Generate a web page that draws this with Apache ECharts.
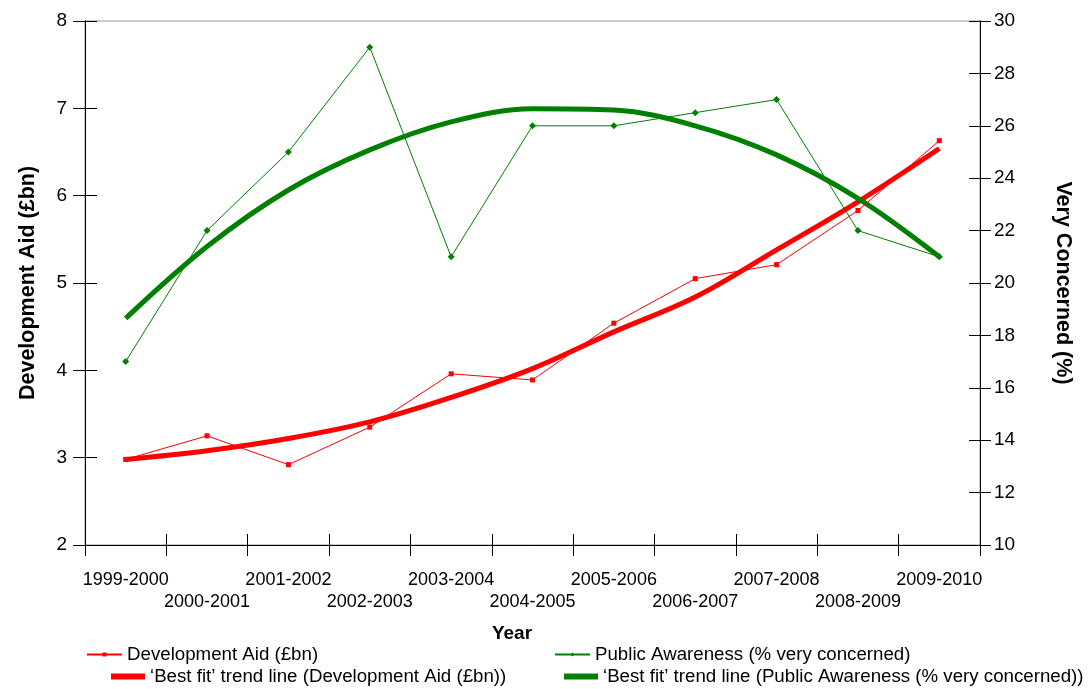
<!DOCTYPE html>
<html>
<head>
<meta charset="utf-8">
<script src="https://cdn.jsdelivr.net/npm/echarts@6/dist/echarts.min.js"></script>
<style>
html,body{margin:0;padding:0;background:#fff;}
#chart{width:1088px;height:689px;}
</style>
</head>
<body>
<div id="chart"></div>
<script>
const categories = ['1999-2000','2000-2001','2001-2002','2002-2003','2003-2004','2004-2005','2005-2006','2006-2007','2007-2008','2008-2009','2009-2010'];
const aid = [2.98, 3.25, 2.92, 3.35, 3.96, 3.89, 4.54, 5.05, 5.21, 5.83, 6.63];
const awareness = [17, 22, 25, 29, 21, 26, 26, 26.5, 27, 22, 21];
const aidTrend = [2.98, 3.08, 3.22, 3.41, 3.69, 4.02, 4.44, 4.84, 5.38, 5.93, 6.54];
const awarenessTrend = [18.65, 21.39, 23.55, 25.08, 26.15, 26.65, 26.6, 26.0, 24.89, 23.23, 21.0];

const seriesNames = ['Development Aid (£bn)', 'Public Awareness (% very concerned)',
  '\u2018Best fit\u2019 trend line (Development Aid (£bn))',
  '\u2018Best fit\u2019 trend line (Public Awareness (% very concerned))'];

const FONT = 'Liberation Sans, Arial, sans-serif';
const RED = '#ff0000', GREEN = '#008000';

const chart = echarts.init(document.getElementById('chart'));
const legendText = {fontFamily: FONT, fontSize: 18.7, color: '#000'};
function legend(name, left, top, thick) {
  const l = {data: [name], left: left, top: top, itemWidth: 35, itemGap: 4,
    textStyle: legendText, selectedMode: false, padding: 0};
  if (thick) { l.icon = 'rect'; l.itemHeight = 6; l.itemWidth = 34; }
  else { l.itemHeight = 5; }
  return l;
}
const tickStyle = {color: '#000', width: 1};
chart.setOption({
  backgroundColor: '#fff',
  animation: false,
  title: {text: 'Year', left: 507, top: 619, textAlign: 'center',
    textStyle: {fontFamily: FONT, fontSize: 19, fontWeight: 'bold', color: '#000'}},
  grid: {left: 85, right: 108, top: 21, bottom: 144, show: true, borderColor: '#999', borderWidth: 1},
  legend: [
    legend(seriesNames[0], 86, 645, false),
    legend(seriesNames[1], 554, 645, false),
    legend(seriesNames[2], 111, 667, true),
    legend(seriesNames[3], 564, 667, true)
  ],
  xAxis: [{
    type: 'category', data: categories, position: 'bottom', offset: 0,
    axisLine: {lineStyle: {color: '#000', width: 1}},
    axisTick: {show: true, inside: false, length: 11, lineStyle: tickStyle},
    axisLabel: {interval: 0, margin: 24, fontFamily: FONT, fontSize: 18, color: '#000', lineHeight: 22,
      formatter: function (v, i) { return i % 2 === 1 ? '\n' + v : v + '\n'; }},
    splitLine: {show: false}
  }, {
    type: 'category', data: categories, position: 'bottom', offset: 0,
    axisLine: {show: true, onZero: false, lineStyle: {color: '#000', width: 1}},
    axisTick: {show: true, inside: true, length: 11, lineStyle: tickStyle},
    axisLabel: {show: false}, splitLine: {show: false}
  }],
  yAxis: [{
    type: 'value', min: 2, max: 8, interval: 1, position: 'left', offset: 0,
    name: 'Development Aid (£bn)', nameLocation: 'middle', nameGap: 46,
    nameTextStyle: {fontFamily: FONT, fontSize: 21.5, fontWeight: 'bold', color: '#000'},
    axisLine: {show: true, lineStyle: {color: '#000'}},
    axisTick: {show: true, length: 12, lineStyle: tickStyle},
    axisLabel: {margin: 18, fontFamily: FONT, fontSize: 19, color: '#000'},
    splitLine: {show: false}
  }, {
    type: 'value', min: 10, max: 30, interval: 2, position: 'right', offset: 0,
    name: 'Very Concerned (%)', nameLocation: 'middle', nameGap: 72, nameRotate: -90,
    nameTextStyle: {fontFamily: FONT, fontSize: 21.5, fontWeight: 'bold', color: '#000'},
    axisLine: {show: true, lineStyle: {color: '#000'}},
    axisTick: {show: true, length: 11, lineStyle: tickStyle},
    axisLabel: {margin: 14, fontFamily: FONT, fontSize: 19, color: '#000'},
    splitLine: {show: false}
  }, {
    type: 'value', min: 2, max: 8, interval: 1, position: 'left', offset: 0,
    axisLine: {show: true, onZero: false, lineStyle: {color: '#000'}},
    axisTick: {show: true, inside: true, length: 12, lineStyle: tickStyle},
    axisLabel: {show: false}, splitLine: {show: false}
  }, {
    type: 'value', min: 10, max: 30, interval: 2, position: 'right', offset: 0,
    axisLine: {show: true, onZero: false, lineStyle: {color: '#000'}},
    axisTick: {show: true, inside: true, length: 11, lineStyle: tickStyle},
    axisLabel: {show: false}, splitLine: {show: false}
  }],
  series: [{
    name: seriesNames[0], type: 'line', data: aid, yAxisIndex: 0,
    symbol: 'rect', symbolSize: 5, showAllSymbol: true,
    lineStyle: {color: RED, width: 1}, itemStyle: {color: RED}, z: 3
  }, {
    name: seriesNames[1], type: 'line', data: awareness, yAxisIndex: 1,
    symbol: 'diamond', symbolSize: 7, showAllSymbol: true,
    lineStyle: {color: GREEN, width: 1}, itemStyle: {color: GREEN}, z: 3
  }, {
    name: seriesNames[2], type: 'line', data: aidTrend, yAxisIndex: 0,
    symbol: 'none', smooth: 0.35,
    lineStyle: {color: RED, width: 5}, itemStyle: {color: RED}, z: 2
  }, {
    name: seriesNames[3], type: 'line', data: awarenessTrend, yAxisIndex: 1,
    symbol: 'none', smooth: 0.35,
    lineStyle: {color: GREEN, width: 5}, itemStyle: {color: GREEN}, z: 2
  }]
});
</script>
</body>
</html>
